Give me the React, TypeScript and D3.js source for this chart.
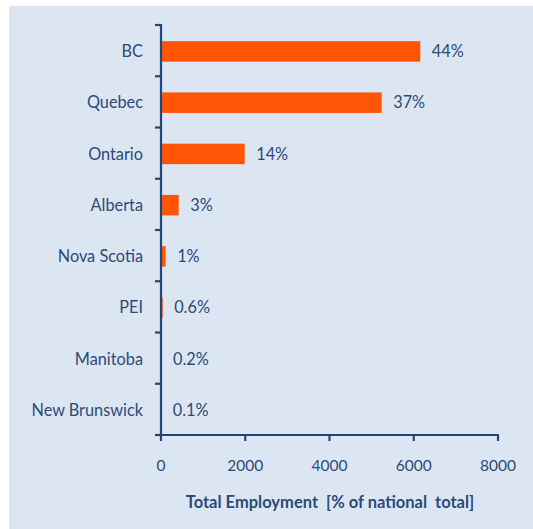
import React from "react";
import * as d3 from "d3";

const categories = ["BC", "Quebec", "Ontario", "Alberta", "Nova Scotia", "PEI", "Manitoba", "New Brunswick"];
const values = [6155, 5239, 1987, 420, 110, 40, 12, 6];
const labels = ["44%", "37%", "14%", "3%", "1%", "0.6%", "0.2%", "0.1%"];
const xTicks = [0, 2000, 4000, 6000, 8000];
const xTitle = "Total Employment  [% of national  total]";

const W = 533;
const H = 529;
const left = 161;
const right = 498;
const top = 25;
const bottom = 435;

const FONT = "Lato, 'Open Sans', sans-serif";
const TEXT = "#2C4A78";
const AXIS = "#22457A";
const BAR = "#FF5505";

export default function App() {
  const x = d3.scaleLinear().domain([0, 8000]).range([left, right]);
  const band = d3.scaleBand().domain(categories).range([top, bottom]);
  const bw = band.bandwidth();
  const barH = 20.5;

  return (
    <svg width={W} height={H} style={{ position: "absolute", left: 0, top: 0 }} fontFamily={FONT}>
      <rect x={9} y={6} width={W - 9} height={H - 6} fill="#DCE6F3" />
      {categories.map((c, i) => {
        const cy = (band(c) as number) + bw / 2 + 0.8;
        return (
          <g key={c}>
            <rect x={x(0)} y={cy - barH / 2} width={Math.max(0, x(values[i]) - x(0))} height={barH} fill={BAR} />
            <text x={left - 18} y={cy} dy="0.35em" textAnchor="end" fontSize={16.3} fill={TEXT}>{c}</text>
            <text x={x(values[i]) + 11.5} y={cy} dy="0.35em" textAnchor="start" fontSize={16.3} fill={TEXT}>{labels[i]}</text>
          </g>
        );
      })}
      <line x1={left} x2={left} y1={top - 1} y2={bottom + 1} stroke={AXIS} strokeWidth={2.2} />
      {categories.map((c) => (
        <line key={"t" + c} x1={left - 6} x2={left} y1={band(c) as number} y2={band(c) as number} stroke={AXIS} strokeWidth={2.2} />
      ))}
      <line x1={left - 6} x2={left} y1={bottom} y2={bottom} stroke={AXIS} strokeWidth={2.2} />
      <line x1={left - 1} x2={right + 1} y1={bottom} y2={bottom} stroke={AXIS} strokeWidth={2.2} />
      {xTicks.map((t) => (
        <g key={t}>
          <line x1={x(t)} x2={x(t)} y1={bottom} y2={bottom + 6} stroke={AXIS} strokeWidth={2.2} />
          <text x={x(t)} y={466} dy="0.35em" textAnchor="middle" fontSize={15.5} fill={TEXT}>{t}</text>
        </g>
      ))}
      <text x={330} y={502} dy="0.35em" textAnchor="middle" fontSize={16.5} fontWeight="bold" fill={TEXT} style={{ whiteSpace: "pre" }}>{xTitle}</text>
    </svg>
  );
}
